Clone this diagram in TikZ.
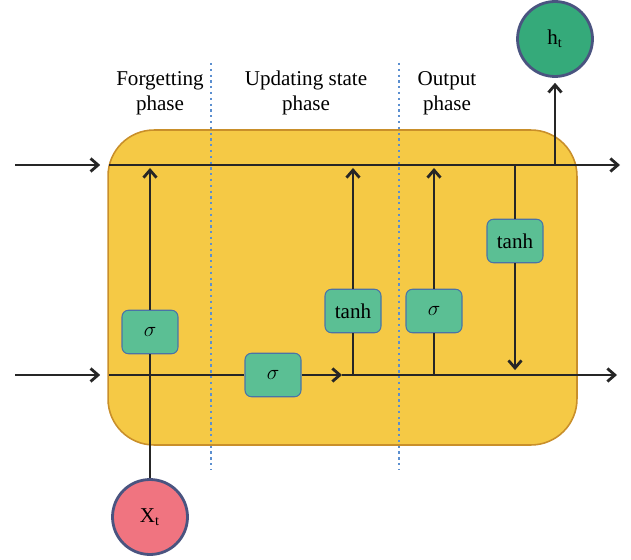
\documentclass[tikz,border=0pt]{standalone}
\usepackage{fontspec}
\setmainfont{Liberation Serif}
\usepackage{xcolor}
\usetikzlibrary{arrows.meta,positioning}
\definecolor{cellfill}{HTML}{F5C945}
\definecolor{celldraw}{HTML}{C98F2A}
\definecolor{gatefill}{HTML}{5BBF94}
\definecolor{gatedraw}{HTML}{4A73A8}
\definecolor{outfill}{HTML}{35AA7A}
\definecolor{infill}{HTML}{F07480}
\definecolor{ringdraw}{HTML}{4A5480}
\definecolor{phaseline}{HTML}{5B8FD0}
\tikzset{
  cell/.style={draw=celldraw,line width=0.9pt,fill=cellfill,rounded corners=0.92cm,minimum width=9.38cm,minimum height=6.3cm},
  gate/.style={draw=gatedraw,line width=0.6pt,fill=gatefill,rounded corners=0.13cm,minimum width=1.12cm,minimum height=0.87cm,font=\large},
  state/.style={draw=ringdraw,line width=1.6pt,circle,minimum size=1.5cm,font=\large},
  phase/.style={align=center,font=\large,inner sep=0pt},
  flow/.style={line width=1.3pt,draw=black!85},
  arrow/.style={flow,-{Straight Barb[length=1.5mm,width=2.6mm,line width=1.6pt]}},
  divider/.style={draw=phaseline,line width=1.3pt,dotted}
}

\begin{document}
\begin{tikzpicture}[x=0.02cm,y=-0.02cm]
  \useasboundingbox (0,0) rectangle (631,560);

  % the cell body
  \node (cell) [cell] at (342.5,287.5) {};

  % phase labels and dividers
  \node (forgetlbl) [phase] at (160,93) {Forgetting\\phase};
  \node (updatelbl) [phase] at (306,93) {Updating state\\phase};
  \node (outputlbl) [phase] at (447,93) {Output\\phase};
  \coordinate (div1top) at (211,63);
  \coordinate (div1bot) at (211,470);
  \coordinate (div2top) at (399,63);
  \coordinate (div2bot) at (399,470);
  \draw[divider] (div1top) -- (div1bot);
  \draw[divider] (div2top) -- (div2bot);

  % ends of the two lines running through the cell
  \coordinate (cin) at (15,165);
  \coordinate (cstart) at (109,165);
  \coordinate (cout) at (620,165);
  \coordinate (hin) at (15,375);
  \coordinate (hstart) at (109,375);
  \coordinate (hout) at (617,375);

  % input and output
  \node (xt) [state,fill=infill] at (150,517) {X\textsubscript{t}};
  \node (ht) [state,fill=outfill] at (555,39) {h\textsubscript{t}};

  % gates
  \node (forget) [gate] at (150,332) {$\sigma$};
  \node (update) [gate] at (273,375) {$\sigma$};
  \node (candidate) [gate] at (353,311) {tanh};
  \node (output) [gate] at (434,311) {$\sigma$};
  \node (squash) [gate] at (515,241) {tanh};

  % taps on the two lines
  \coordinate (ftop) at (150,165);
  \coordinate (umid) at (342,375);
  \coordinate (cbot) at (353,375);
  \coordinate (ctop) at (353,165);
  \coordinate (obot) at (434,375);
  \coordinate (otop) at (434,165);
  \coordinate (stop) at (515,165);
  \coordinate (sbot) at (515,375);
  \coordinate (htap) at (555,165);

  \draw[arrow] (cin) -- ([xshift=-5pt]cstart);
  \draw[arrow] (hin) -- ([xshift=-5pt]hstart);
  \draw[arrow] (cstart) -- (cout);
  \draw[flow] (hstart) -- (update);
  \draw[arrow] (update) -- (umid);
  \draw[arrow] (umid) -- (hout);

  \draw[flow] (xt) -- (forget);
  \draw[arrow] (forget) -- ([yshift=-1.7pt]ftop);
  \draw[flow] (cbot) -- (candidate);
  \draw[arrow] (candidate) -- ([yshift=-1.7pt]ctop);
  \draw[flow] (obot) -- (output);
  \draw[arrow] (output) -- ([yshift=-1.7pt]otop);
  \draw[flow] (stop) -- (squash);
  \draw[arrow] (squash) -- ([yshift=2.8pt]sbot);
  \draw[arrow] (htap) -- ([yshift=-2.8pt]ht.south);
\end{tikzpicture}
\end{document}
